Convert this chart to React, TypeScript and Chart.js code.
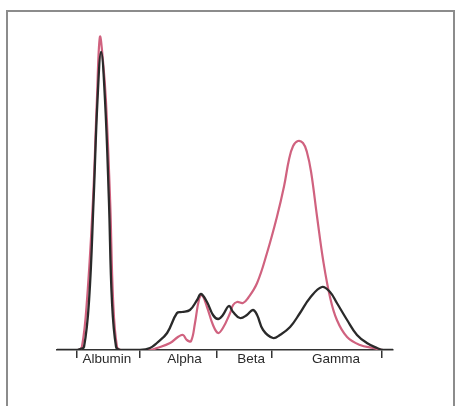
import React, { useEffect, useRef } from "react";
import { Chart, registerables } from "chart.js";

Chart.register(...registerables);

// Relative electrophoretic mobility (x) and densitometer reading (y)
const normalX = [0, 6, 7.7, 9, 10.7, 12.2, 13.5, 14.7, 16, 17.3, 18.3, 19.7, 21, 27.7, 31, 33.3, 36.7, 40, 41.7, 44.3, 46.7, 48, 50, 52, 53.7, 55.3, 57.3, 58.7, 61, 63.3, 65.3, 66.7, 68.7, 72, 74.3, 77.7, 81, 84.3, 88.3, 91, 93.3, 96.7, 100, 103.3, 106.7, 108.7, 112];
const normalY = [0, 0, 0.5, 1.5, 25, 75, 125, 149, 125, 75, 25, 1.5, 0, 0, 1, 3.5, 8.5, 18.5, 19, 20, 25, 28, 24, 17.5, 15.5, 17.5, 22, 19, 16, 17.5, 20, 17.5, 10, 6, 7.5, 11.5, 18.5, 26, 31.5, 29, 23.5, 15, 7.5, 3.5, 1, 0, 0];

const patientX = [0, 7, 8.3, 10, 12, 13.3, 14.3, 15.3, 16.3, 17.7, 18.7, 20, 21.3, 31, 33.3, 37.7, 40.3, 42, 43.3, 44.7, 46, 47.3, 48.3, 50, 52, 53.7, 55.3, 57.7, 58.7, 60, 62, 63.7, 66.7, 70, 73.3, 75.7, 77.3, 78.7, 80.3, 82, 83.3, 84.7, 86.7, 88.7, 91, 93.3, 96.7, 101, 105.3, 108.7, 112];
const patientY = [0, 0, 1.5, 25, 75, 125, 156.5, 145, 125, 75, 25, 1.5, 0, 0, 1, 3.5, 6.5, 7.5, 5, 4.5, 13.5, 25, 27.5, 21.5, 12.5, 8.5, 11, 18.5, 22.5, 24, 23.5, 26, 33.5, 48.5, 66.5, 82, 95, 102, 104.5, 103.5, 99, 89, 66.5, 45, 26.5, 15, 6.5, 2.5, 1, 0, 0];

const fractionBounds = [6.6, 27.7, 53.2, 71.6, 108.2];
const fractionNames = ["Albumin", "Alpha", "Beta", "Gamma"];
const fractionCenters = [16.6, 42.5, 64.7, 93];

export default function App() {
  const ref = useRef<HTMLCanvasElement | null>(null);

  useEffect(() => {
    if (!ref.current) return;
    const toPts = (xs: number[], ys: number[]) => xs.map((x, i) => ({ x, y: ys[i] }));
    const allTicks = [...fractionBounds, ...fractionCenters].sort((a, b) => a - b);
    const chart = new Chart(ref.current, {
      type: "line",
      data: {
        datasets: [
          {
            label: "Normal",
            data: toPts(normalX, normalY),
            borderColor: "#2a2a2a",
            borderWidth: 2.3,
            pointRadius: 0,
            tension: 0.4,
            fill: false,
          },
          {
            label: "Patient",
            data: toPts(patientX, patientY),
            borderColor: "#d0627f",
            borderWidth: 2.2,
            pointRadius: 0,
            tension: 0.4,
            fill: false,
          },
        ],
      },
      options: {
        responsive: false,
        animation: false,
        layout: { padding: { left: 57, right: 65, top: 30, bottom: 0 } },
        plugins: { legend: { display: false }, tooltip: { enabled: false } },
        scales: {
          x: {
            type: "linear",
            min: 0,
            max: 112,
            afterFit: (s: any) => {
              s.height = 56;
            },
            afterBuildTicks: (s: any) => {
              s.ticks = allTicks.map((v) => ({ value: v }));
            },
            border: { display: true, color: "#333", width: 1.5 },
            grid: {
              drawOnChartArea: false,
              drawTicks: true,
              tickLength: 8,
              lineWidth: 1.5,
              color: (c: any) =>
                c.tick && fractionBounds.includes(c.tick.value) ? "#333" : "rgba(0,0,0,0)",
            },
            ticks: {
              autoSkip: false,
              maxRotation: 0,
              padding: -7,
              color: "#2a2a2a",
              font: { family: "Liberation Sans, Arial, sans-serif", size: 13.5 },
              callback: (v: any) => {
                const i = fractionCenters.indexOf(Number(v));
                return i >= 0 ? fractionNames[i] : "";
              },
            },
          },
          y: { display: false, min: 0, max: 160 },
        },
      },
    });
    return () => chart.destroy();
  }, []);

  return (
    <div style={{ position: "fixed", left: 0, top: 0, width: 458, height: 406, overflow: "hidden", background: "#fff" }}>
      <canvas ref={ref} width={458} height={406} style={{ position: "absolute", left: 0, top: 0 }} />
      <div
        style={{
          position: "absolute",
          left: 6,
          top: 10,
          width: 449,
          height: 420,
          border: "2px solid #8c8c8c",
          boxSizing: "border-box",
          pointerEvents: "none",
        }}
      />
    </div>
  );
}
